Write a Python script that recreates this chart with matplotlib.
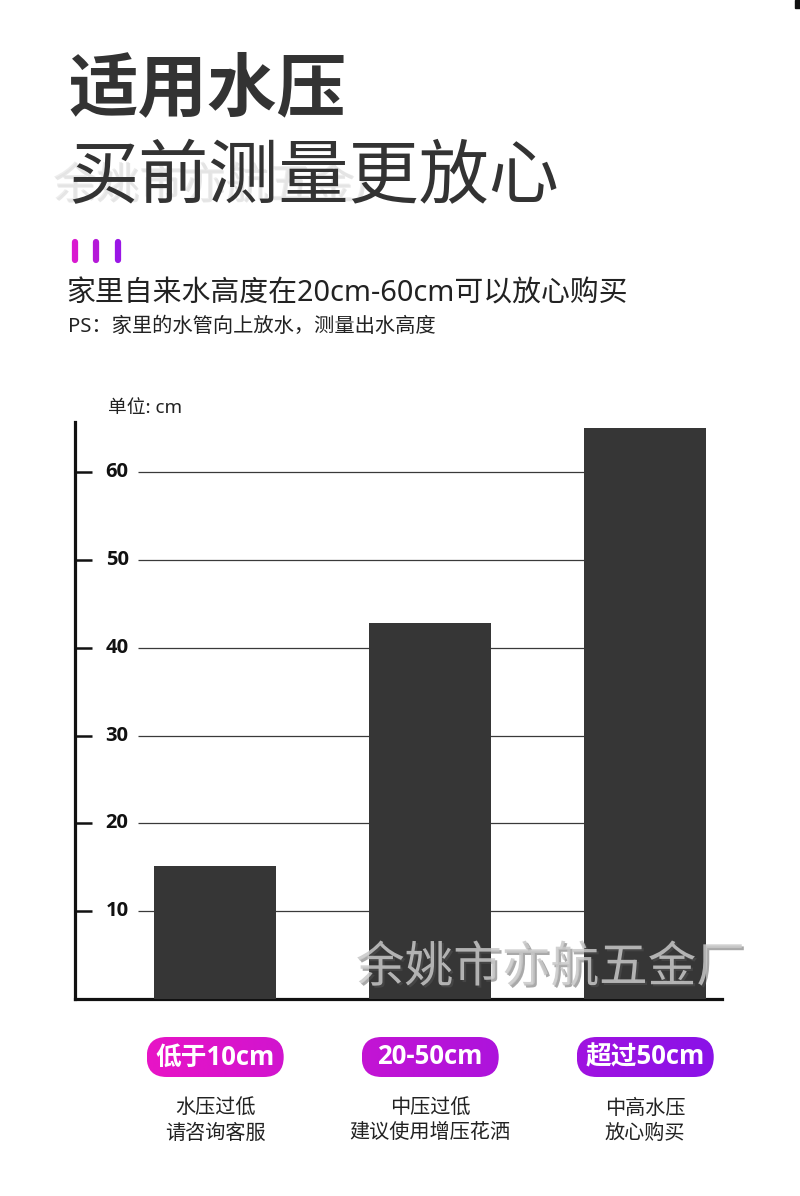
import numpy as np
import matplotlib
matplotlib.use('Agg')
import matplotlib.pyplot as plt
from matplotlib.patches import FancyBboxPatch, Rectangle
from matplotlib.colors import LinearSegmentedColormap
import matplotlib.patheffects as pe

plt.rcParams['font.family'] = ['Noto Sans CJK SC', 'DejaVu Sans']
MIX = ['Noto Sans', 'Noto Sans CJK SC', 'DejaVu Sans']
MIXB = ['Open Sans', 'Noto Sans CJK SC', 'DejaVu Sans']

# ---------------- data ----------------
categories = ['低于10cm', '20-50cm', '超过50cm']
desc_line1 = ['水压过低', '中压过低', '中高水压']
desc_line2 = ['请咨询客服', '建议使用增压花洒', '放心购买']
heights = [15.1, 42.8, 65.0]
yticks = [10, 20, 30, 40, 50, 60]
title_line1 = '适用水压'
title_line2 = '买前测量更放心'
subtitle = '家里自来水高度在20cm-60cm可以放心购买'
note = 'PS：家里的水管向上放水，测量出水高度'
unit_label = '单位: cm'
watermark = '余姚市亦航五金厂'

W, H = 800, 1196
fig = plt.figure(figsize=(W / 100, H / 100), dpi=100)
fig.patch.set_facecolor('white')


def px(x0, y0, x1, y1):
    return [x0 / W, 1 - y1 / H, (x1 - x0) / W, (y1 - y0) / H]


# ---------------- main chart ----------------
ax = fig.add_axes(px(75, 422, 722, 999))
x = np.arange(len(categories))
bar_w = 0.567
ax.set_xlim(-0.652, 2.357)
ax.set_ylim(0, 65.7)
ax.bar(x, heights, width=bar_w, color='#363636', zorder=3)
ax.hlines(yticks, -0.358, x[-1] - bar_w / 2, color='#3a3a3a', lw=0.9, zorder=1)
for t in yticks:
    ax.text(-0.456, t, str(t), ha='center', va='center', fontsize=14.5,
            fontweight='bold', color='#111111', family=MIXB)
ax.set_yticks(yticks)
ax.set_yticklabels([])
ax.tick_params(axis='y', direction='in', length=12, width=1.8, color='#111111')
ax.set_xticks([])
for s in ['top', 'right']:
    ax.spines[s].set_visible(False)
for s in ['left', 'bottom']:
    ax.spines[s].set_linewidth(2.3)
    ax.spines[s].set_color('#111111')
ax.patch.set_alpha(0)

# ---------------- overlay (pixel coordinates) ----------------
ov = fig.add_axes([0, 0, 1, 1], zorder=5)
ov.patch.set_alpha(0)
ov.axis('off')

dark = '#333333'
ov.text(53, 186, watermark, fontsize=31, color='#e2e2e2', alpha=0.6,
        va='center', ha='left', zorder=2,
        path_effects=[pe.withSimplePatchShadow(offset=(0.8, -0.8), shadow_rgbFace='#bbbbbb', alpha=0.35)])
ov.text(68, 90, title_line1, fontsize=50, fontweight='bold', color=dark,
        va='center', ha='left', zorder=4)
ov.text(68, 178, title_line2, fontsize=50.5, fontweight='medium', color=dark,
        va='center', ha='left', zorder=4)

for xx, c in zip([75, 96, 118], ['#d91ad0', '#b51ad8', '#9a16e6']):
    ov.plot([xx, xx], [242, 260], lw=4.5, color=c, solid_capstyle='round')

ov.text(66, 294, subtitle, fontsize=20.8, color='#222222', va='center', ha='left', family=MIX)
ov.text(68, 327, note, fontsize=14.6, color='#222222', va='center', ha='left', family=MIX)
ov.text(108, 408, unit_label, fontsize=13.5, color='#222222', va='center', ha='left', family=MIX)

# pills with gradient
cmap = LinearSegmentedColormap.from_list('pill', ['#e814c6', '#b814d8', '#8a12e8'])
centers = ax.transData.transform(np.c_[x, np.zeros(len(x))])[:, 0]
gx0, gx1 = centers[0] - 69, centers[-1] + 69
pw, ph, pyc = 137, 40, 1057
for i, (cx, cat) in enumerate(zip(centers, categories)):
    x0, x1 = cx - pw / 2, cx + pw / 2
    y0, y1 = pyc - ph / 2, pyc + ph / 2
    patch = FancyBboxPatch((x0, y0), pw, ph,
                           boxstyle=f'round,pad=0,rounding_size={ph / 2}',
                           facecolor='none', edgecolor='none')
    ov.add_patch(patch)
    a = (x0 - gx0) / (gx1 - gx0)
    b = (x1 - gx0) / (gx1 - gx0)
    img = ov.imshow(np.linspace(a, b, 200)[None, :], cmap=cmap, vmin=0, vmax=1,
                    extent=[x0, x1, y1, y0], aspect='auto', interpolation='bilinear')
    img.set_clip_path(patch)
    ov.text(cx, pyc, cat, fontsize=18.5, fontweight='bold', color='white',
            ha='center', va='center', family=MIXB)
    ov.text(cx, 1108, desc_line1[i], fontsize=14.5, color='#222222', ha='center', va='center')
    ov.text(cx, 1133, desc_line2[i], fontsize=14.5, color='#222222', ha='center', va='center')

# bottom watermark
ov.text(356, 968, watermark, fontsize=35, color='#c8c8c8', alpha=0.85,
        va='center', ha='left', zorder=6,
        path_effects=[pe.withSimplePatchShadow(offset=(1.5, -1.5), shadow_rgbFace='#555555', alpha=0.5)])

ov.add_patch(Rectangle((795, 0), 5, 8, color='#111111'))

ov.set_xlim(0, W)
ov.set_ylim(H, 0)

fig.savefig('out.png', dpi=100, facecolor='white')
